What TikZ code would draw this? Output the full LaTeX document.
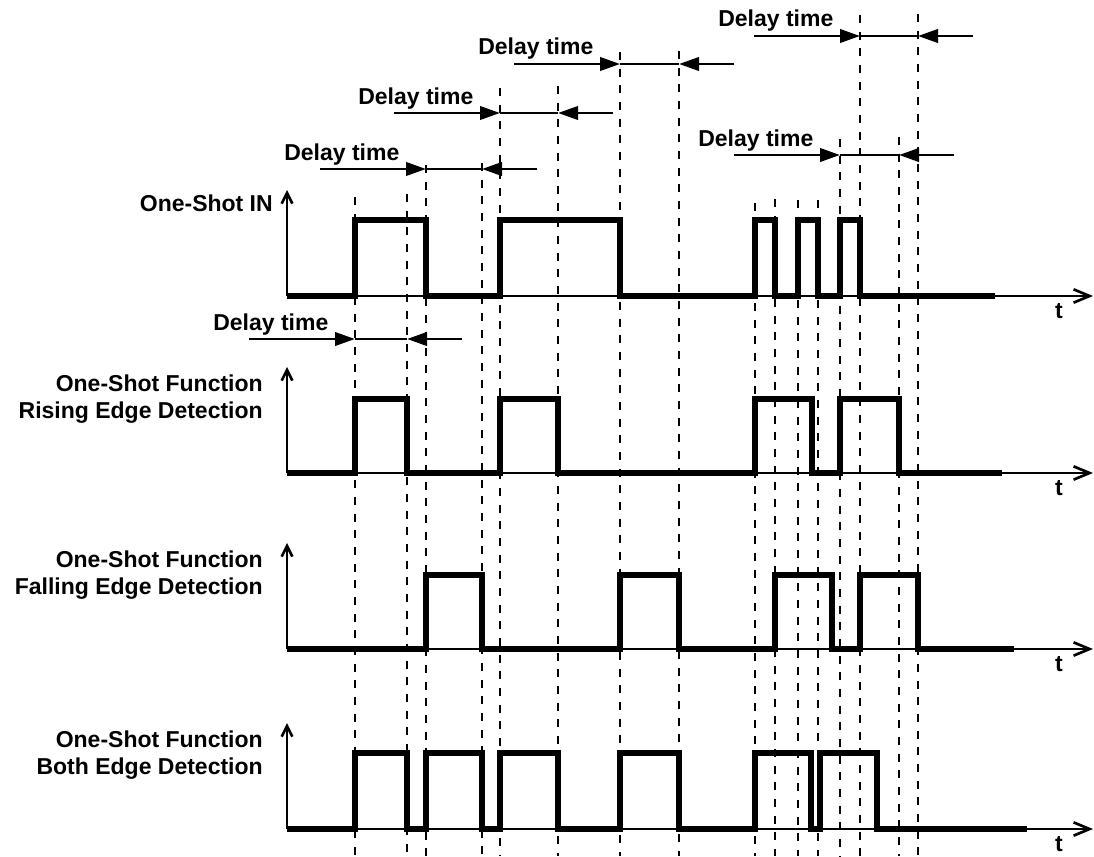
\documentclass[tikz,border=0pt]{standalone}
\usepackage{fontspec}
\setmainfont{Liberation Sans}
\usetikzlibrary{arrows.meta}

\begin{document}
\begin{tikzpicture}[x=0.75pt,y=-0.75pt,
      lbl/.style={font=\fontsize{17.25}{20}\selectfont\bfseries,inner sep=0pt},
      sig/.style={line width=3.8pt,line join=miter},
      ax/.style={line width=2pt,-{Straight Barb[length=12pt,width=10pt]}},
      yax/.style={line width=2pt,-{Straight Barb[length=8pt,width=8pt]}},
      dl/.style={line width=2.2pt},
      dla/.style={dl,-{Triangle[length=15pt,width=10pt]}},
      gd/.style={line width=1.5pt,dash pattern=on 6pt off 6.5pt}]
  \useasboundingbox (0,0) rectangle (1094,856);
  \foreach \x/\t in {355/197,407/194,426/165,482/163,500/88,558/86,620/52,679/51,
                     755/203,775/199,798/200,818/200,840/139,860/15,899/137,918/14}
    \draw[gd] (\x,\t) -- (\x,856);
  \foreach \B/\n in {296/1,473/2,649/3,829/4} {
    \coordinate (o\n) at (287,\B);
    \coordinate (y\n) at (287,\B-106);
    \coordinate (x\n) at (1093,\B);
    \draw[yax] (o\n) -- (y\n);
    \draw[ax] (o\n) -- (x\n);
    \node[lbl,anchor=base] (t\n) at (1059,\B+22) {t};
  }
  \draw[sig] (o1) foreach \r/\f in {355/426,500/620,755/775,798/818,840/860}
    { -- (\r,296) -- (\r,220) -- (\f,220) -- (\f,296) } -- (995,296);
  \draw[sig] (o2) foreach \r/\f in {355/407,500/558,755/812,840/899}
    { -- (\r,473) -- (\r,399) -- (\f,399) -- (\f,473) } -- (1002,473);
  \draw[sig] (o3) foreach \r/\f in {426/482,620/679,775/832,860/918}
    { -- (\r,649) -- (\r,575) -- (\f,575) -- (\f,649) } -- (1014,649);
  \draw[sig] (o4) foreach \r/\f in {355/407,426/482,500/558,620/679,755/811,820/877}
    { -- (\r,829) -- (\r,753) -- (\f,753) -- (\f,829) } -- (1027,829);
  \foreach \a/\b/\y [count=\i] in {860/918/36,620/679/64,500/558/113,
                                   426/482/169,840/899/155,355/407/339} {
    \coordinate (ds\i) at (\a-106,\y);
    \coordinate (da\i) at (\a,\y);
    \coordinate (db\i) at (\b,\y);
    \coordinate (de\i) at (\b+55,\y);
    \draw[dla] (ds\i) -- (da\i);
    \draw[dl] (da\i) -- (db\i);
    \draw[dla] (de\i) -- (db\i);
    \node[lbl,anchor=base west] (dt\i) at (\a-142,\y-9) {Delay time};
  }
  \node[lbl,anchor=base east] (in) at (273,211) {One-Shot IN};
  \node[lbl,anchor=east,align=right] (re) at (263,399) {One-Shot Function\\Rising Edge Detection};
  \node[lbl,anchor=east,align=right] (fe) at (263,575) {One-Shot Function\\Falling Edge Detection};
  \node[lbl,anchor=east,align=right] (be) at (263,755) {One-Shot Function\\Both Edge Detection};
\end{tikzpicture}
\end{document}
